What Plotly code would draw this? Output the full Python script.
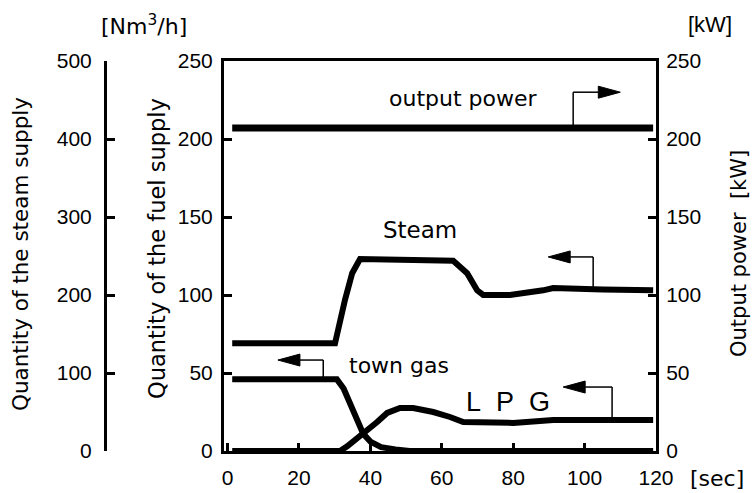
import plotly.graph_objects as go

# ---------------- data ----------------
# time [sec]
steam_t = [1.3, 30.1, 32.9, 34.9, 37.1, 50.0, 63.2, 67.1, 69.9, 71.6, 79.1, 88.4, 91.2, 105.0, 119.2]
# steam supply [on the steam-supply axis, 0-500]
steam_v = [138, 138, 194, 228, 246, 245, 244, 228, 206, 200, 200, 206, 209, 207, 206]

gas_t = [1.3, 30.6, 32.5, 34.5, 36.5, 38.0, 40.0, 43.0, 47.0, 51.0, 119.2]
gas_v = [46, 46, 40, 30, 19, 11, 6, 2.5, 1, 0, 0]          # town gas [Nm3/h]

lpg_t = [1.3, 31.5, 33.5, 35.2, 38.5, 41.9, 44.7, 48.3, 52.0, 57.6, 62.3, 66.0, 80.0, 91.2, 119.2]
lpg_v = [0, 0, 3, 6, 11.5, 18.6, 24.4, 27.6, 27.6, 25, 21.8, 18.6, 18, 19.9, 19.9]  # LPG [Nm3/h]

power_t = [1.3, 18.0, 30.0, 45.0, 60.0, 90.0, 119.2]
power_v = [207, 207, 207.5, 207.5, 207, 207, 207]          # output power [kW]

x_ticks = [0, 20, 40, 60, 80, 100, 120]
fuel_ticks = [0, 50, 100, 150, 200, 250]
steam_ticks = [0, 100, 200, 300, 400, 500]
power_ticks = [0, 50, 100, 150, 200, 250]

# ---------------- layout geometry ----------------
W, H = 752, 493
X_RANGE = [-1, 120]
Y_RANGE = [0, 250]
L, R, T, B = 224, 656, 61, 451
xdom = [L / W, R / W]
ydom = [1 - B / H, 1 - T / H]
ux = (X_RANGE[1] - X_RANGE[0]) / (R - L)
uy = (Y_RANGE[1] - Y_RANGE[0]) / (B - T)

TICKFONT = dict(family="Liberation Sans, Arial, sans-serif", size=21, color="black")
TEXTFONT = dict(family="DejaVu Sans, sans-serif", size=22, color="black")

fig = go.Figure()
LW = 6
fig.add_trace(go.Scatter(x=steam_t, y=steam_v, yaxis="y3", mode="lines",
                         line=dict(color="black", width=LW), showlegend=False))
fig.add_trace(go.Scatter(x=gas_t, y=gas_v, yaxis="y", mode="lines",
                         line=dict(color="black", width=LW), showlegend=False))
fig.add_trace(go.Scatter(x=lpg_t, y=lpg_v, yaxis="y", mode="lines",
                         line=dict(color="black", width=LW), showlegend=False))
fig.add_trace(go.Scatter(x=power_t, y=power_v, yaxis="y2", mode="lines",
                         line=dict(color="black", width=7), showlegend=False))

shapes = []


def bracket_arrow(xv, y0, y1, xtip):
    d = 1 if xtip > xv else -1
    head = 22 * ux
    half = 6 * uy
    xb = xtip - d * head
    shapes.append(dict(type="line", xref="x", yref="y", x0=xv, y0=y0, x1=xv, y1=y1,
                       line=dict(color="black", width=1.5)))
    shapes.append(dict(type="line", xref="x", yref="y", x0=xv, y0=y1, x1=xb, y1=y1,
                       line=dict(color="black", width=1.5)))
    shapes.append(dict(type="path", xref="x", yref="y",
                       path=f"M{xtip},{y1} L{xb},{y1 + half} L{xb},{y1 - half} Z",
                       fillcolor="black", line=dict(color="black", width=1)))


bracket_arrow(96.8, 207, 230, 110.0)   # output power -> right axis
bracket_arrow(102.4, 103, 124.4, 89.8)  # steam -> left
bracket_arrow(26.8, 46, 58.3, 14.1)    # town gas -> left
bracket_arrow(107.7, 20, 41, 94.0)     # LPG -> left

annotations = []


def label(text, px, py, angle=0, font=TEXTFONT):
    annotations.append(dict(text=text, x=px / W, y=1 - py / H, xref="paper", yref="paper",
                            showarrow=False, xanchor="center", yanchor="middle",
                            textangle=angle, font=font))


label("output power", 463, 99)
label("Steam", 420, 230, font=dict(TEXTFONT, size=23))
label("town gas", 399, 365)
label("L\u00a0\u00a0P\u00a0\u00a0G", 508, 402, font=dict(family="Liberation Sans, Arial, sans-serif", size=27, color="black"))
label("[Nm<sup>3</sup>/h]", 144, 25, font=dict(TEXTFONT, size=22))
label("[kW]", 710, 25, font=dict(TICKFONT, size=22))
label("[sec]", 717, 478, font=dict(TEXTFONT, size=22))
label("Quantity of the steam supply", 21, 254, angle=-90, font=dict(TEXTFONT, size=21.5))
label("Quantity of the fuel supply", 157, 249, angle=-90, font=dict(TEXTFONT, size=22.5))
label("Output power\u00a0\u00a0[kW]", 739, 254, angle=-90, font=dict(TEXTFONT, size=21))

axis_common = dict(showgrid=False, zeroline=False, showline=True, linecolor="black",
                   linewidth=3, ticks="inside", ticklen=8, tickwidth=2.5, tickcolor="black",
                   tickfont=TICKFONT, automargin=False)

fig.update_layout(
    width=W, height=H, autosize=False,
    margin=dict(l=0, r=0, t=0, b=0, pad=0, autoexpand=False),
    paper_bgcolor="white", plot_bgcolor="white",
    showlegend=False,
    xaxis=dict(axis_common, domain=xdom, range=X_RANGE, tickvals=x_ticks,
               mirror=True, ticklabelstandoff=6),
    yaxis=dict(axis_common, domain=ydom, range=Y_RANGE, tickvals=fuel_ticks,
               anchor="x", side="left", ticklabelstandoff=4),
    yaxis2=dict(axis_common, domain=ydom, range=Y_RANGE, tickvals=power_ticks,
                anchor="x", overlaying="y", side="right", ticklabelstandoff=3),
    yaxis3=dict(axis_common, domain=ydom, range=[0, 500], tickvals=steam_ticks,
                anchor="free", position=105 / W, overlaying="y", side="left",
                ticklabelstandoff=8),
    shapes=shapes,
    annotations=annotations,
)

fig.write_html("out.html")
